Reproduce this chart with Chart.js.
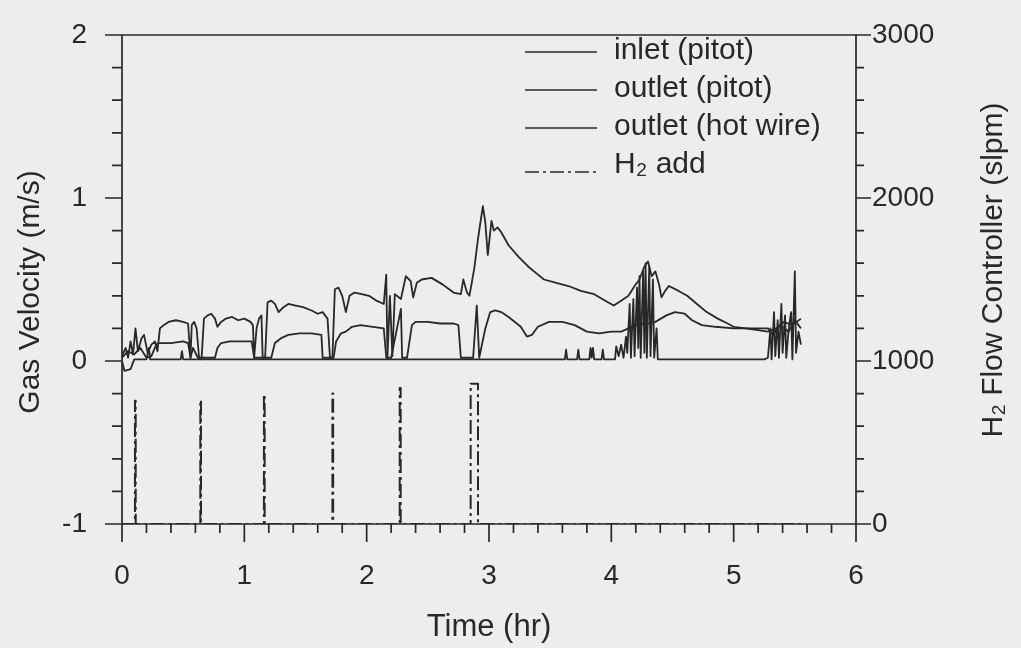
<!DOCTYPE html>
<html>
<head>
<meta charset="utf-8">
<script src="https://cdn.jsdelivr.net/npm/chart.js@4.4.0/dist/chart.umd.min.js"></script>
<style>
    html, body { margin: 0; padding: 0; background: #ededed; }
    #wrap { width: 1021px; height: 648px; }
</style>
</head>
<body>
<div id="wrap"><canvas id="chart" width="1021" height="648"></canvas></div>
<script>
// DATA (time in hr, velocity in m/s, H2 flow in slpm)

const inletT = [0.00,0.05,0.10,0.15,0.20,0.24,0.28,0.30,0.40,0.50,0.54,0.56,0.58,0.62,0.70,0.76,0.78,0.81,0.88,1.00,
    1.06,1.08,1.12,1.17,1.22,1.25,1.30,1.36,1.45,1.55,1.63,1.64,1.68,1.73,1.75,1.79,1.83,1.88,1.95,2.05,
    2.14,2.16,2.20,2.28,2.29,2.33,2.37,2.40,2.50,2.60,2.71,2.75,2.77,2.82,2.87,2.90,2.92,2.97,3.01,3.05,
    3.10,3.16,3.26,3.31,3.35,3.40,3.49,3.60,3.70,3.80,3.90,4.00,4.08,4.14,4.20,4.30,4.36,4.45,4.52,4.60,
    4.66,4.74,4.85,5.00,5.15,5.28,5.32,5.38,5.45,5.50,5.55];
const inletV = [0.02,0.06,0.04,0.08,0.02,0.03,0.10,0.11,0.11,0.12,0.11,0.02,0.08,0.02,0.02,0.02,0.08,0.11,0.12,0.12,
    0.12,0.02,0.02,0.02,0.02,0.11,0.14,0.16,0.17,0.17,0.16,0.02,0.02,0.02,0.12,0.17,0.18,0.21,0.22,0.21,
    0.20,0.02,0.02,0.32,0.02,0.02,0.22,0.24,0.24,0.23,0.23,0.22,0.02,0.02,0.02,0.34,0.02,0.20,0.30,0.31,
    0.30,0.27,0.21,0.15,0.16,0.21,0.24,0.24,0.22,0.18,0.17,0.18,0.18,0.20,0.22,0.23,0.24,0.28,0.30,0.29,
    0.25,0.22,0.21,0.20,0.20,0.20,0.16,0.22,0.18,0.25,0.20];

const outletT = [0.00,0.03,0.05,0.07,0.09,0.11,0.13,0.16,0.18,0.21,0.24,0.27,0.29,0.31,0.34,0.38,0.44,0.50,0.54,0.56,
    0.57,0.59,0.61,0.63,0.65,0.67,0.70,0.73,0.76,0.78,0.81,0.85,0.90,0.95,1.00,1.05,1.07,1.08,1.10,1.12,
    1.14,1.15,1.17,1.19,1.22,1.25,1.28,1.32,1.36,1.42,1.48,1.55,1.60,1.64,1.68,1.70,1.72,1.74,1.77,1.80,
    1.83,1.86,1.90,1.96,2.02,2.08,2.14,2.16,2.17,2.19,2.21,2.23,2.28,2.32,2.36,2.38,2.41,2.45,2.53,2.62,
    2.71,2.77,2.79,2.82,2.84,2.88,2.91,2.95,2.97,2.99,3.02,3.04,3.07,3.10,3.16,3.24,3.32,3.40,3.45,3.55,
    3.65,3.75,3.86,3.95,4.02,4.08,4.14,4.19,4.23,4.27,4.30,4.33,4.36,4.39,4.41,4.44,4.47,4.55,4.62,4.70,
    4.78,4.87,4.95,5.00,5.10,5.20,5.28,5.35,5.41,5.48,5.55];
const outletV = [0.03,0.08,0.02,0.12,0.04,0.20,0.06,0.14,0.16,0.05,0.10,0.12,0.06,0.20,0.22,0.24,0.25,0.24,0.23,0.02,
    0.22,0.24,0.20,0.02,0.01,0.26,0.28,0.29,0.26,0.21,0.24,0.26,0.27,0.25,0.26,0.24,0.22,0.02,0.20,0.26,
    0.28,0.02,0.02,0.36,0.37,0.35,0.30,0.33,0.35,0.34,0.33,0.31,0.29,0.30,0.26,0.02,0.02,0.44,0.45,0.40,
    0.30,0.40,0.42,0.41,0.40,0.37,0.35,0.53,0.02,0.40,0.03,0.41,0.38,0.52,0.49,0.39,0.48,0.50,0.51,0.47,
    0.42,0.41,0.50,0.42,0.40,0.57,0.75,0.95,0.85,0.65,0.86,0.80,0.82,0.79,0.71,0.64,0.58,0.53,0.50,0.48,
    0.46,0.43,0.41,0.37,0.34,0.37,0.40,0.46,0.50,0.58,0.61,0.52,0.55,0.47,0.39,0.43,0.46,0.43,0.40,0.35,
    0.30,0.26,0.23,0.21,0.20,0.19,0.18,0.20,0.24,0.22,0.26];

const hotT = [0.00,0.02,0.07,0.10,0.20,0.22,0.23,0.48,0.49,0.50,3.62,3.63,3.64,3.72,3.73,3.74,3.82,3.83,3.84,3.85,
    3.86,3.92,3.93,3.94,4.03,4.04,4.06,4.08,4.10,4.12,4.13,4.15,4.16,4.18,4.19,4.21,4.22,4.23,4.24,4.26,
    4.27,4.28,4.29,4.31,4.32,4.34,4.35,4.37,4.38,5.25,5.28,5.30,5.31,5.33,5.34,5.36,5.37,5.39,5.40,5.42,
    5.43,5.45,5.47,5.48,5.50,5.51,5.53,5.55];
const hotV = [0.00,-0.06,-0.05,0.01,0.01,0.08,0.01,0.01,0.06,0.01,0.01,0.07,0.01,0.01,0.07,0.01,0.01,0.08,0.02,0.08,
    0.01,0.01,0.07,0.01,0.01,0.09,0.03,0.10,0.02,0.15,0.05,0.35,0.02,0.38,0.03,0.45,0.08,0.52,0.02,0.55,
    0.05,0.60,0.02,0.58,0.03,0.50,0.02,0.20,0.01,0.01,0.02,0.20,0.01,0.30,0.03,0.25,0.02,0.35,0.05,0.28,
    0.02,0.20,0.30,0.01,0.55,0.05,0.18,0.10];

const h2T = [0.00,0.106,0.106,0.112,0.112,0.64,0.64,0.646,0.646,1.16,1.16,1.166,1.166,
    1.72,1.72,1.726,1.726,2.27,2.27,2.278,2.278,2.85,2.85,2.91,2.91,5.55];
const h2Q = [0,0,756,756,0,0,760,760,0,0,795,795,0,0,800,800,0,0,835,835,0,0,860,860,0,0];

const seriesNames = ['inlet (pitot)', 'outlet (pitot)', 'outlet (hot wire)', 'H\u2082 add'];

const xTicks = [0, 1, 2, 3, 4, 5, 6];
const yTicks = [-1, 0, 1, 2];
const y2Ticks = [0, 1000, 2000, 3000];

// STYLE

const INK = '#282828';
const FONT = '"Liberation Sans", Arial, sans-serif';

function toPoints(ts, vs) {
    return ts.map((t, i) => ({ x: t, y: vs[i] }));
}

function lineSet(label, ts, vs, axis, dash) {
    return {
        label: label,
        data: toPoints(ts, vs),
        yAxisID: axis,
        borderColor: INK,
        borderWidth: dash ? 2 : 1.8,
        borderDash: dash || [],
        borderJoinStyle: 'round',
        pointRadius: 0,
        tension: 0,
        fill: false
    };
}

// no label overhang padding, so the plot box lands where the layout says
function noPad(s) {
    s.paddingTop = 0;
    s.paddingBottom = 0;
    s.paddingLeft = 0;
    s.paddingRight = 0;
}

// PLUGINS

// frame and tick marks (major + minor), drawn from the chart's scales
const axisFrame = {
    id: 'axisFrame',
    afterDraw(chart) {
        const { ctx, chartArea: a, scales } = chart;
        ctx.save();
        ctx.strokeStyle = INK;
        ctx.lineWidth = 1.7;
        ctx.beginPath();
        ctx.rect(a.left, a.top, a.right - a.left, a.bottom - a.top);
        ctx.stroke();

        ctx.beginPath();
        for (let i = 0; i <= 30; i++) {
            const px = scales.x.getPixelForValue(i * 0.2);
            ctx.moveTo(px, a.bottom);
            ctx.lineTo(px, a.bottom + (i % 5 === 0 ? 18 : 9));
        }
        for (let i = 0; i <= 15; i++) {
            const py = scales.y.getPixelForValue(-1 + i * 0.2);
            ctx.moveTo(a.left, py);
            ctx.lineTo(a.left - (i % 5 === 0 ? 17 : 10), py);
        }
        for (let i = 0; i <= 15; i++) {
            const py = scales.y2.getPixelForValue(i * 200);
            ctx.moveTo(a.right, py);
            ctx.lineTo(a.right + (i % 5 === 0 ? 15 : 8), py);
        }
        ctx.stroke();
        ctx.restore();
    }
};

// vertical axis titles (both read bottom to top)
const sideTitles = {
    id: 'sideTitles',
    afterDraw(chart) {
        const ctx = chart.ctx;
        const draw = (text, x, y) => {
            ctx.save();
            ctx.fillStyle = INK;
            ctx.font = `30px ${FONT}`;
            ctx.textAlign = 'center';
            ctx.textBaseline = 'middle';
            ctx.translate(x, y);
            ctx.rotate(-Math.PI / 2);
            ctx.fillText(text, 0, 0);
            ctx.restore();
        };
        draw('Gas Velocity (m/s)', 31, 292);
        draw('H\u2082 Flow Controller (slpm)', 994, 270);
    }
};

// legend in the upper right of the plot
const legendBox = {
    id: 'legendBox',
    afterDraw(chart) {
        const ctx = chart.ctx;
        ctx.save();
        ctx.font = `30px ${FONT}`;
        ctx.textBaseline = 'middle';
        ctx.fillStyle = INK;
        chart.data.datasets.forEach((ds, i) => {
            const y = 51 + i * 38;
            const ly = y + (i === 3 ? 7 : 1);
            ctx.strokeStyle = ds.borderColor;
            ctx.lineWidth = 1.3;
            ctx.setLineDash(ds.borderDash);
            ctx.beginPath();
            ctx.moveTo(525, ly);
            ctx.lineTo(597, ly);
            ctx.stroke();
            ctx.setLineDash([]);
            ctx.fillText(ds.label, 614, y);
        });
        ctx.restore();
    }
};

// CHART

const tickFont = { family: FONT, size: 28 };

new Chart(document.getElementById('chart'), {
    type: 'line',
    data: {
        datasets: [
            lineSet(seriesNames[0], inletT, inletV, 'y'),
            lineSet(seriesNames[1], outletT, outletV, 'y'),
            lineSet(seriesNames[2], hotT, hotV, 'y'),
            lineSet(seriesNames[3], h2T, h2Q, 'y2', [14, 4, 3, 4])
        ]
    },
    options: {
        responsive: false,
        animation: false,
        layout: { padding: { top: 35, left: 0, right: 0, bottom: 0 } },
        plugins: {
            legend: { display: false },
            tooltip: { enabled: false }
        },
        scales: {
            x: {
                type: 'linear',
                min: 0,
                max: 6,
                afterBuildTicks: s => { s.ticks = xTicks.map(v => ({ value: v })); },
                afterFit: s => { s.height = 124; noPad(s); },
                grid: { display: false, drawTicks: false },
                border: { display: false },
                ticks: {
                    font: tickFont,
                    color: INK,
                    padding: 35,
                    maxRotation: 0,
                    autoSkip: false,
                    callback: v => String(v)
                },
                title: {
                    display: true,
                    text: 'Time (hr)',
                    color: INK,
                    font: { family: FONT, size: 31 },
                    padding: { top: 0, bottom: 2 }
                }
            },
            y: {
                type: 'linear',
                position: 'left',
                min: -1,
                max: 2,
                afterBuildTicks: s => { s.ticks = yTicks.map(v => ({ value: v })); },
                afterFit: s => { s.width = 122; noPad(s); },
                grid: { display: false, drawTicks: false },
                border: { display: false },
                ticks: {
                    font: tickFont,
                    color: INK,
                    padding: 35,
                    callback: v => String(v)
                }
            },
            y2: {
                type: 'linear',
                position: 'right',
                min: 0,
                max: 3000,
                afterBuildTicks: s => { s.ticks = y2Ticks.map(v => ({ value: v })); },
                afterFit: s => { s.width = 165; noPad(s); },
                grid: { display: false, drawTicks: false },
                border: { display: false },
                ticks: {
                    font: tickFont,
                    color: INK,
                    padding: 16,
                    callback: v => String(v)
                }
            }
        }
    },
    plugins: [axisFrame, sideTitles, legendBox]
});
</script>
</body>
</html>
